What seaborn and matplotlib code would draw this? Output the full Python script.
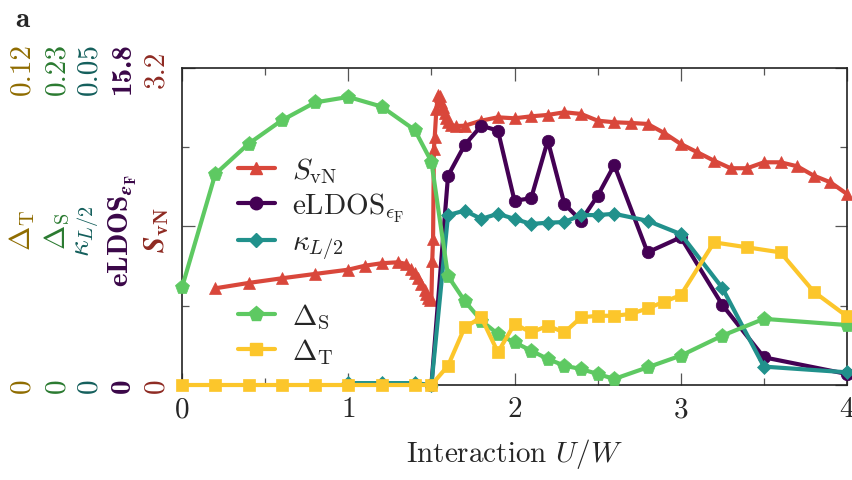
import numpy as np
import matplotlib
matplotlib.use("Agg")
import matplotlib.pyplot as plt
import matplotlib.transforms as mtransforms
from matplotlib.lines import Line2D
from matplotlib.ticker import MultipleLocator
import seaborn as sns

# full-scale value of each quantity on the shared (normalised) axis
svn_max = 3.2
eldos_max = 15.8
kappa_max = 0.05
ds_max = 0.23
dt_max = 0.12

# von Neumann entanglement entropy
u_svn = [0.2, 0.4, 0.6, 0.8, 1.0, 1.1, 1.2, 1.3, 1.35, 1.38, 1.40, 1.42, 1.44,
         1.46, 1.47, 1.48, 1.49, 1.50, 1.505, 1.51, 1.515, 1.52, 1.53, 1.54,
         1.55, 1.56, 1.57, 1.58, 1.59, 1.60, 1.62, 1.65, 1.7, 1.8, 1.9, 2.0,
         2.1, 2.2, 2.3, 2.4, 2.5, 2.6, 2.7, 2.8, 2.9, 3.0, 3.1, 3.2, 3.3, 3.4,
         3.5, 3.6, 3.7, 3.8, 3.9, 4.0]
svn = [0.976, 1.030, 1.077, 1.121, 1.164, 1.204, 1.229, 1.239, 1.221, 1.171,
       1.131, 1.080, 1.020, 0.959, 0.919, 0.878, 0.858, 0.868, 1.252, 1.474,
       2.382, 2.503, 2.786, 2.927, 2.917, 2.857, 2.806, 2.746, 2.695, 2.655,
       2.624, 2.614, 2.617, 2.668, 2.702, 2.692, 2.712, 2.726, 2.753, 2.736,
       2.668, 2.652, 2.645, 2.635, 2.544, 2.433, 2.349, 2.264, 2.188, 2.188,
       2.248, 2.248, 2.208, 2.113, 2.046, 1.928]

# local density of states at the Fermi level
u_eldos = [1.5, 1.6, 1.7, 1.8, 1.9, 2.0, 2.1, 2.2, 2.3, 2.4, 2.5, 2.6, 2.8,
           3.0, 3.25, 3.5, 4.0]
eldos = [0.0, 10.43, 11.96, 12.92, 12.68, 9.18, 9.31, 12.18, 9.02, 8.19, 9.43,
         10.96, 6.61, 7.36, 3.99, 1.38, 0.55]

# conductance through the half chain
u_kappa = [1.0, 1.2, 1.4, 1.5, 1.6, 1.7, 1.8, 1.9, 2.0, 2.1, 2.2, 2.3, 2.4,
           2.5, 2.6, 2.8, 3.0, 3.25, 3.5, 4.0]
kappa = [0.0003, 0.0003, 0.0003, 0.0, 0.0268, 0.0275, 0.0262, 0.0270, 0.0262,
         0.0254, 0.0256, 0.0257, 0.0268, 0.0268, 0.0270, 0.0259, 0.0238,
         0.0153, 0.0029, 0.0020]

# singlet gap
u_ds = [0.0, 0.2, 0.4, 0.6, 0.8, 1.0, 1.2, 1.4, 1.5, 1.6, 1.7, 1.8, 1.9, 2.0,
        2.1, 2.2, 2.3, 2.4, 2.5, 2.6, 2.8, 3.0, 3.25, 3.5, 4.0]
ds = [0.0709, 0.153, 0.175, 0.192, 0.205, 0.209, 0.202, 0.185, 0.162, 0.079,
      0.061, 0.0467, 0.037, 0.031, 0.0249, 0.0189, 0.014, 0.0116, 0.008,
      0.0044, 0.0128, 0.0213, 0.0358, 0.048, 0.0435]

# triplet gap
u_dt = [0.0, 0.2, 0.4, 0.6, 0.8, 1.0, 1.2, 1.4, 1.5, 1.6, 1.7, 1.8, 1.9, 2.0,
        2.1, 2.2, 2.3, 2.4, 2.5, 2.6, 2.7, 2.8, 2.9, 3.0, 3.2, 3.4, 3.6, 3.8,
        4.0]
dt = [0.0, 0.0, 0.0, 0.0, 0.0, 0.0, 0.0, 0.0, 0.0, 0.0073, 0.0218, 0.0256,
      0.0124, 0.0231, 0.0199, 0.0224, 0.0199, 0.0256, 0.0262, 0.0262, 0.0269,
      0.0290, 0.0315, 0.0340, 0.0540, 0.0521, 0.0502, 0.0353, 0.0260]

# line colours and darker shades for the scale annotations
c_svn, c_eldos, c_kappa, c_ds, c_dt = "#d9473b", "#440154", "#21918c", "#5ec962", "#fcc62b"
t_svn, t_eldos, t_kappa, t_ds, t_dt = "#8e2a22", "#3a0748", "#145f5c", "#2a7a30", "#8f6c00"

sns.set_style("ticks")
plt.rcParams["font.family"] = ["cmr10", "DejaVu Serif"]
plt.rcParams["mathtext.fontset"] = "cm"
plt.rcParams["axes.formatter.use_mathtext"] = True
plt.rcParams["axes.unicode_minus"] = False

fig = plt.figure(figsize=(8.53, 4.81), dpi=100)
ax = fig.add_axes([0.2134, 0.1975, 0.7796, 0.6591])

series = [
    (u_svn, np.array(svn) / svn_max, c_svn, "^", 9, r"$S_{\rm vN}$"),
    (u_eldos, np.array(eldos) / eldos_max, c_eldos, "o", 9, r"${\rm eLDOS}_{\epsilon_{\rm F}}$"),
    (u_kappa, np.array(kappa) / kappa_max, c_kappa, "D", 7, r"$\kappa_{L/2}$"),
    (u_ds, np.array(ds) / ds_max, c_ds, "p", 11, r"$\Delta_{\rm S}$"),
    (u_dt, np.array(dt) / dt_max, c_dt, "s", 9, r"$\Delta_{\rm T}$"),
]

handles = []
for i, (u, v, col, mk, ms, lab) in enumerate(series):
    sns.lineplot(x=u, y=v, ax=ax, color=col, marker=mk, markersize=ms,
                 markeredgecolor=col, markeredgewidth=0.5, linewidth=3.0,
                 estimator=None, sort=False, clip_on=False, zorder=3 + i)
    handles.append(Line2D([], [], color=col, marker=mk, markersize=ms,
                          markeredgecolor=col, linewidth=3.0, label=lab))

# empty spacer row between the two groups of legend entries
spacer = Line2D([], [], color="none", label=r"$\Delta_{\rm S}$")
handles.insert(3, spacer)
leg = ax.legend(handles=handles, loc="upper left", bbox_to_anchor=(0.084, 0.724),
                frameon=False, fontsize=21, handlelength=1.27, handletextpad=0.6,
                labelspacing=0.18, borderaxespad=0, borderpad=0)
leg.get_texts()[3].set_alpha(0)

ax.set_xlim(0, 4)
ax.set_ylim(0, 1)
ax.xaxis.set_major_locator(MultipleLocator(1))
ax.xaxis.set_minor_locator(MultipleLocator(0.5))
ax.yaxis.set_major_locator(MultipleLocator(0.5))
ax.yaxis.set_minor_locator(MultipleLocator(0.25))
ax.tick_params(which="both", direction="in", top=True, right=True,
               color="#555555", width=0.9, labelleft=False,
               labelsize=21, pad=8)
ax.tick_params(which="major", length=9)
ax.tick_params(which="minor", length=5)
for sp in ax.spines.values():
    sp.set_linewidth(1.2)
    sp.set_color("#222222")
ax.set_xlabel(r"Interaction $U/W$", fontsize=21, labelpad=10)
ax.set_ylabel("")

# stacked colour-coded scales on the left
trans = mtransforms.blended_transform_factory(fig.transFigure, ax.transAxes)
cols_x = [0.026, 0.067, 0.104, 0.144, 0.183]
tops = ["0.12", "0.23", "0.05", "15.8", "3.2"]
names = [r"$\Delta_{\rm T}$", r"$\Delta_{\rm S}$", r"$\boldsymbol{\kappa_{L/2}}$",
         r"$\mathbf{eLDOS}_{\boldsymbol{\epsilon}_\mathbf{F}}$", r"$\boldsymbol{S}_\mathbf{vN}$"]
tcols = [t_dt, t_ds, t_kappa, t_eldos, t_svn]
fams = ["cmr10", "cmr10", "cmr10", "cmb10", "cmr10"]
for xc, top, name, tc, fam in zip(cols_x, tops, names, tcols, fams):
    ax.text(xc, 1.0, top, transform=trans, rotation=90, ha="center",
            va="center", color=tc, fontsize=21, family=fam)
    ax.text(xc, 0.0, "0", transform=trans, rotation=90, ha="center",
            va="center", color=tc, fontsize=21, family=fam)
    ax.text(xc, 0.49, name, transform=trans, rotation=90, ha="center",
            va="center", color=tc, fontsize=21)

fig.text(0.018, 0.985, "a", fontsize=21, family="cmb10",
         ha="left", va="top")

fig.savefig("out.png", dpi=100)
